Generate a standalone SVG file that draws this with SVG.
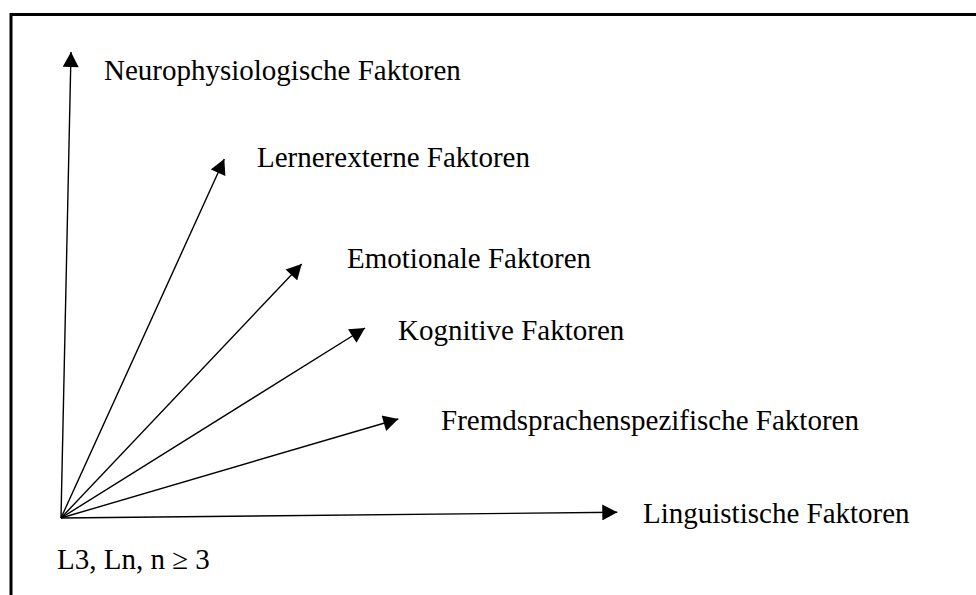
<svg xmlns="http://www.w3.org/2000/svg" width="976" height="595" viewBox="0 0 976 595">
  <style>
    .frame { fill: none; stroke: #000; stroke-width: 3; }
    .ray { fill: none; stroke: #000; stroke-width: 1.4; marker-end: url(#head); }
    .lbl { font-family: "Liberation Serif", "Times New Roman", serif; font-size: 29px; fill: #000; }
  </style>
  <defs>
    <marker id="head" markerUnits="userSpaceOnUse" markerWidth="16" markerHeight="16" viewBox="0 0 15 16" refX="15" refY="8" orient="auto">
      <path d="M0,0 L15,8 L0,16 Z" fill="#000"/>
    </marker>
  </defs>
  <rect width="976" height="595" fill="#fff"/>
  <!-- outer frame, runs off the right and bottom edges -->
  <rect class="frame" x="11" y="14.5" width="1000" height="640"/>

  <g id="connectors">
    <line class="ray" x1="61" y1="518" x2="71" y2="52"/>
    <line class="ray" x1="61" y1="518" x2="224.3" y2="159"/>
    <line class="ray" x1="61" y1="518" x2="301.7" y2="264"/>
    <line class="ray" x1="61" y1="518" x2="365" y2="328"/>
    <line class="ray" x1="61" y1="518" x2="398.3" y2="419"/>
    <line class="ray" x1="61" y1="518" x2="617.3" y2="512.3"/>
  </g>

  <g id="origin">
    <text class="lbl" x="57" y="569">L3, Ln, n ≥ 3</text>
  </g>
  <g id="neurophysiologisch">
    <text class="lbl" x="104" y="80">Neurophysiologische Faktoren</text>
  </g>
  <g id="lernerextern">
    <text class="lbl" x="257" y="167">Lernerexterne Faktoren</text>
  </g>
  <g id="emotional">
    <text class="lbl" x="347" y="268">Emotionale Faktoren</text>
  </g>
  <g id="kognitiv">
    <text class="lbl" x="398" y="340">Kognitive Faktoren</text>
  </g>
  <g id="fremdsprachenspezifisch">
    <text class="lbl" x="441" y="430">Fremdsprachenspezifische Faktoren</text>
  </g>
  <g id="linguistisch">
    <text class="lbl" x="643" y="523">Linguistische Faktoren</text>
  </g>
</svg>
